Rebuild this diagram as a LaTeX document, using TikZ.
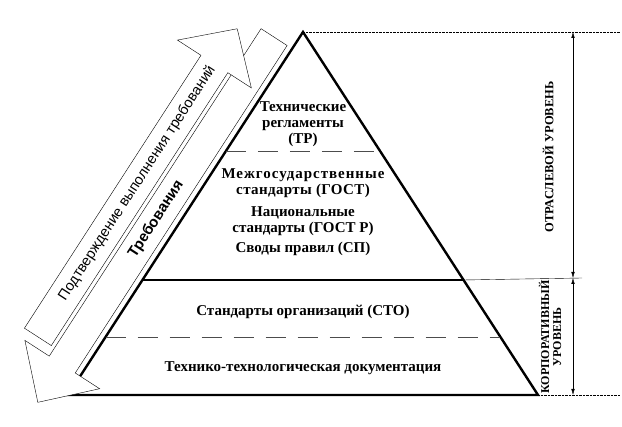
\documentclass[tikz,border=0pt]{standalone}
\usepackage{fontspec}
\setmainfont{Liberation Serif}
\setsansfont{Liberation Sans}
\usetikzlibrary{arrows.meta,positioning,calc}

\begin{document}
\begin{tikzpicture}[x=1pt,y=1pt,
    lvl/.style={font=\fontsize{15}{16}\selectfont\bfseries,align=center,inner sep=0pt},
    edgeline/.style={line width=2.4pt,line join=miter},
    sepline/.style={draw=black!70,semithick,dash pattern=on 20pt off 12pt},
    guide/.style={densely dotted,thin},
    dimline/.style={{Latex[length=6pt,width=3.5pt]}-{Latex[length=6pt,width=3.5pt]},thin},
    band/.style={draw,thin,fill=white},
    bandtxt/.style={font=\sffamily\fontsize{14.5}{16}\selectfont,rotate=57.1,inner sep=0pt},
    side/.style={font=\fontsize{12.5}{12}\selectfont\bfseries,rotate=90,align=center,inner sep=0pt}
  ]
  \useasboundingbox (0,0) rectangle (622,427);

  % pyramid corners
  \coordinate (top) at (303,395);
  \coordinate (bl) at (68,32);
  \coordinate (br) at (538,32);
  \coordinate (ml) at ($(top)!0.6832!(bl)$);
  \coordinate (mr) at ($(top)!0.6832!(br)$);
  \coordinate (al) at ($(top)!0.3278!(bl)$);
  \coordinate (ar) at ($(top)!0.3278!(br)$);
  \coordinate (cl) at ($(top)!0.8402!(bl)$);
  \coordinate (cr) at ($(top)!0.8402!(br)$);

  \draw[edgeline] (bl) -- (top) -- (br) -- cycle;
  \draw[edgeline] (ml) -- (mr);
  \draw[sepline] (al) -- (ar);
  \draw[sepline] (cl) -- (cr);

  % levels
  \node[lvl] (tr)    at (303,303) {Технические\\регламенты\\(ТР)};
  \node[lvl] (gost)  at (303,244) {{\addfontfeature{LetterSpace=6.5}Межгосударственные}\\
                                   {\addfontfeature{LetterSpace=2.5}стандарты (ГОСТ)}};
  \node[lvl] (gostr) at (303,206) {Национальные\\стандарты (ГОСТ Р)};
  \node[lvl] (sp)    at (303,178) {Своды правил (СП)};
  \node[lvl] (sto)   at (303,115) {Стандарты организаций (СТО)};
  \node[lvl] (ttd)   at (303,59)  {Технико-технологическая документация};

  % dimensions on the right
  \coordinate (gtop) at (620,395);
  \coordinate (gbot) at (620,32);
  \coordinate (mx) at (582,149);
  \coordinate (d1) at (573,395);
  \coordinate (d2) at (573,149);
  \coordinate (d3) at (573,32);
  \draw[guide] (top) -- (gtop);
  \draw[guide] (br) -- (gbot);
  \draw[thin] (mr) -- (mx);
  \draw[dimline] (d1) -- (d2);
  \draw[dimline] (d2) -- (d3);
  \node[side] (branch) at (548,270) {ОТРАСЛЕВОЙ УРОВЕНЬ};
  \node[side,font=\fontsize{12}{12}\selectfont\bfseries] (corp) at (550,90) {КОРПОРАТИВНЫЙ\\УРОВЕНЬ};

  % arrows along the left side
  \begin{scope}[shift={(top)},rotate=57.1]
    \draw[band] (-20,6) -- (-20,37) -- (-410,37) -- (-410,66) -- (-455,21.5)
      -- (-410,-23) -- (-410,6) -- cycle;
    \node[bandtxt,font=\sffamily\bfseries\fontsize{15}{16}\selectfont] (req) at (-237,21.5) {Требования};
    \draw[band] (-400,41) -- (-75,41) -- (-75,13) -- (-33,57) -- (-75,101)
      -- (-75,73) -- (-400,73) -- cycle;
    \node[bandtxt] (conf) at (-217,57) {Подтверждение выполнения требований};
  \end{scope}
\end{tikzpicture}
\end{document}
